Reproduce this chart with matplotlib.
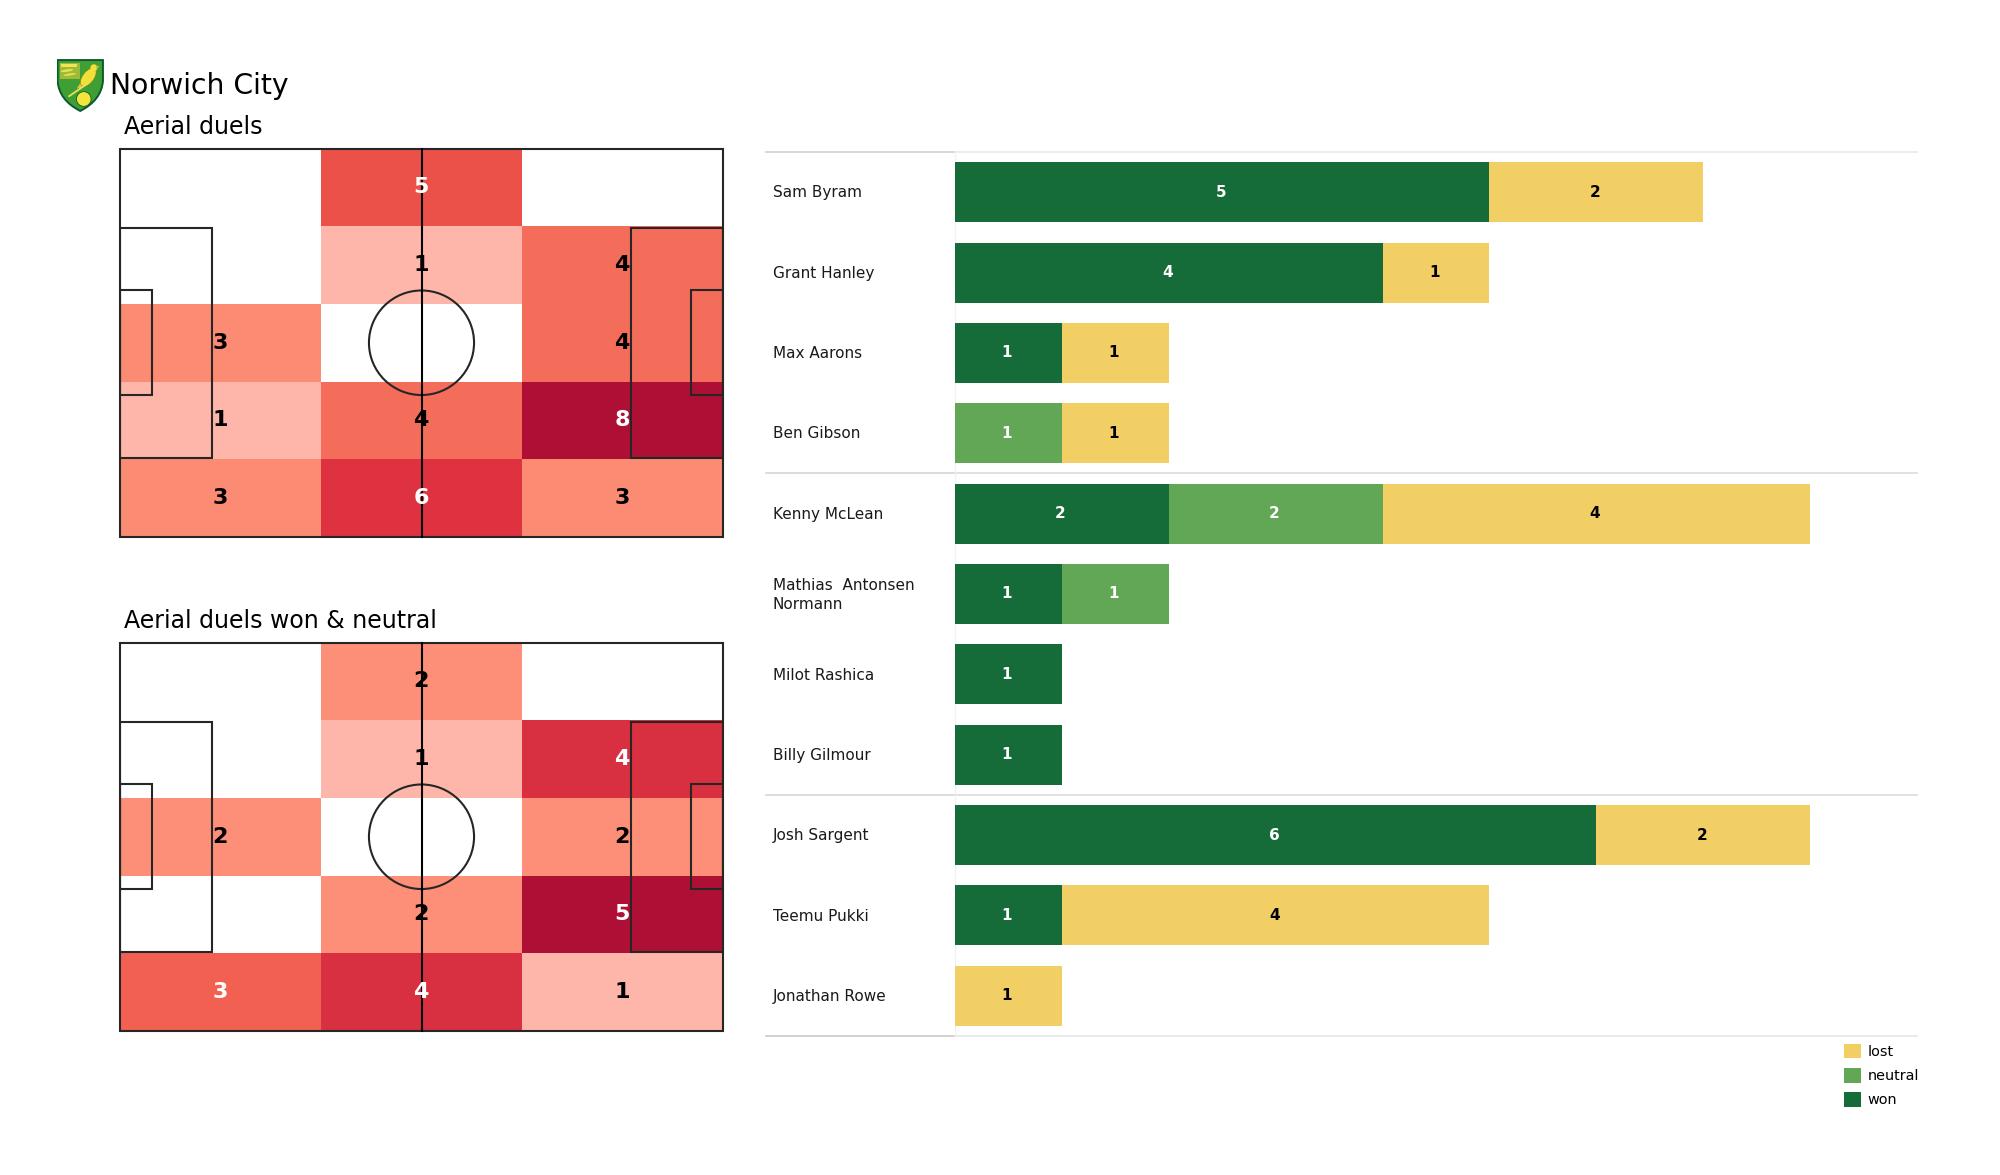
import matplotlib
matplotlib.use('Agg')
import matplotlib.pyplot as plt
import numpy as np
from matplotlib.colors import LinearSegmentedColormap, Normalize
from matplotlib.patches import Circle, Ellipse, PathPatch, Polygon, Rectangle
from matplotlib.path import Path
from matplotlib.transforms import blended_transform_factory

FIG_W, FIG_H = 2000, 1175

# heat map counts, rows top to bottom, columns left to right
aerial_duels = [[0, 5, 0],
                [0, 1, 4],
                [3, 0, 4],
                [1, 4, 8],
                [3, 6, 3]]
aerial_won_neutral = [[0, 2, 0],
                      [0, 1, 4],
                      [2, 0, 2],
                      [0, 2, 5],
                      [3, 4, 1]]

# player table
players = ['Sam Byram', 'Grant Hanley', 'Max Aarons', 'Ben Gibson', 'Kenny McLean',
           'Mathias  Antonsen\nNormann', 'Milot Rashica', 'Billy Gilmour',
           'Josh Sargent', 'Teemu Pukki', 'Jonathan Rowe']
won = [5, 4, 1, 0, 2, 1, 1, 1, 6, 1, 0]
neutral = [0, 0, 0, 1, 2, 1, 0, 0, 0, 0, 0]
lost = [2, 1, 1, 1, 4, 0, 0, 0, 2, 4, 1]

won_color = '#166c38'
neutral_color = '#62a755'
lost_color = '#f1cf65'
line_color = '#262626'

heat_cmap = LinearSegmentedColormap.from_list('heat', [
    (0.0, '#ffffff'), (0.125, '#ffb6aa'), (0.2, '#ffb6aa'), (0.375, '#fc8b74'),
    (0.4, '#fd8f78'), (0.5, '#f46d5b'), (0.6, '#f26052'), (0.625, '#ec5249'),
    (0.75, '#de3241'), (0.8, '#d83040'), (1.0, '#ae1035')])


def px_axes(fig, left, top, right, bottom):
    # axes placed with reference pixel positions
    return fig.add_axes([left / FIG_W, 1 - bottom / FIG_H,
                         (right - left) / FIG_W, (bottom - top) / FIG_H])


def draw_pitch(ax):
    # 105 x 68 pitch outline with boxes and centre circle
    kw = dict(fill=False, edgecolor=line_color, linewidth=1.5, zorder=3)
    ax.add_patch(Rectangle((0, 0), 105, 68, clip_on=False, **kw))
    ax.add_patch(Rectangle((0, 13.84), 16, 40.32, **kw))
    ax.add_patch(Rectangle((89, 13.84), 16, 40.32, **kw))
    ax.add_patch(Rectangle((0, 24.84), 5.6, 18.32, **kw))
    ax.add_patch(Rectangle((99.4, 24.84), 5.6, 18.32, **kw))
    ax.add_patch(Circle((52.5, 34), 9.15, **kw))
    ax.plot([52.5, 52.5], [0, 68], color='black', lw=1.5, zorder=3, clip_on=False)


def draw_heat(ax, counts):
    counts = np.array(counts)
    x_edges = np.linspace(0, 105, counts.shape[1] + 1)
    y_edges = np.linspace(0, 68, counts.shape[0] + 1)
    norm = Normalize(0, counts.max())
    ax.pcolormesh(x_edges, y_edges, counts, cmap=heat_cmap, norm=norm, zorder=1)
    for r in range(counts.shape[0]):
        for c in range(counts.shape[1]):
            if counts[r, c] == 0:
                continue
            color = 'white' if norm(counts[r, c]) >= 0.6 else 'black'
            ax.text((x_edges[c] + x_edges[c + 1]) / 2 - 0.1, (y_edges[r] + y_edges[r + 1]) / 2,
                    str(counts[r, c]), color=color, fontsize=16, fontweight='bold',
                    ha='center', va='center', zorder=4)
    draw_pitch(ax)
    ax.set_xlim(0, 105)
    ax.set_ylim(68, 0)
    ax.axis('off')


def draw_crest(ax):
    # rough drawing of the club crest, units are zoomed pixels
    codes = [Path.MOVETO, Path.LINETO, Path.LINETO, Path.CURVE3, Path.CURVE3,
             Path.CURVE3, Path.CURVE3, Path.CLOSEPOLY]
    verts = [(25, 35), (155, 35), (155, 95), (150, 150), (90, 180),
             (30, 150), (25, 95), (25, 35)]
    ax.add_patch(PathPatch(Path(verts, codes), facecolor='#3f9f35', edgecolor='#0c5a2c', lw=1.4))
    ax.add_patch(Rectangle((32, 42), 56, 46, facecolor='#9dbb38', edgecolor='none'))
    ax.add_patch(Rectangle((35, 46), 46, 8, facecolor='#f0e552', edgecolor='none'))
    ax.add_patch(Ellipse((52, 65), 36, 7, angle=-8, facecolor='#e7df55', edgecolor='none'))
    ax.add_patch(Ellipse((60, 76), 36, 6, angle=-8, facecolor='#e7df55', edgecolor='none'))
    ax.plot([58, 114], [138, 100], color='#e9e25a', lw=1.3, solid_capstyle='round')
    ax.add_patch(Polygon([(96, 92), (80, 116), (96, 114), (116, 100)], facecolor='#d9cb30', edgecolor='none'))
    ax.add_patch(Ellipse((113, 84), 32, 60, angle=38, facecolor='#f4de3a', edgecolor='#7a8a20', lw=0.4))
    ax.add_patch(Circle((129, 57), 10, facecolor='#f4de3a', edgecolor='none'))
    ax.add_patch(Polygon([(136, 50), (146, 54), (136, 60)], facecolor='#c7b92a', edgecolor='none'))
    ax.add_patch(Circle((100, 146), 21, facecolor='#f4e53c', edgecolor='#0c5a2c', lw=0.6))
    ax.set_xlim(22, 158)
    ax.set_ylim(183, 32)
    ax.axis('off')


fig = plt.figure(figsize=(FIG_W / 100, FIG_H / 100), dpi=100, facecolor='white')

crest_ax = px_axes(fig, 56.5, 59, 104, 112)
draw_crest(crest_ax)

fig.text(110 / FIG_W, 1 - 93.5 / FIG_H, 'Norwich City', fontsize=20.3, color='black', va='baseline')
fig.text(124 / FIG_W, 1 - 134 / FIG_H, 'Aerial duels', fontsize=17, color='black', va='baseline')
fig.text(124 / FIG_W, 1 - 628 / FIG_H, 'Aerial duels won & neutral', fontsize=17, color='black', va='baseline')

draw_heat(px_axes(fig, 120, 148.5, 723, 537), aerial_duels)
draw_heat(px_axes(fig, 120, 642.5, 723, 1031), aerial_won_neutral)

# stacked bars
ax = px_axes(fig, 955, 152, 1917, 1036)
y = np.arange(len(players))
won_arr, neutral_arr, lost_arr = np.array(won), np.array(neutral), np.array(lost)
segments = [(won_arr, np.zeros(len(y)), won_color, 'white', 'won'),
            (neutral_arr, won_arr, neutral_color, 'white', 'neutral'),
            (lost_arr, won_arr + neutral_arr, lost_color, 'black', 'lost')]
handles = {}
for values, start, color, text_color, label in segments:
    handles[label] = ax.barh(y, values, left=start, height=0.747, color=color, label=label, zorder=2)
    for row in y:
        if values[row] > 0:
            ax.text(start[row] + values[row] / 2 - 0.014, row, str(values[row]), color=text_color,
                    fontsize=11, fontweight='bold', ha='center', va='center', zorder=3)

ax.set_xlim(0, 9)
ax.set_ylim(len(players) - 0.5, -0.5)
ax.axis('off')

names_trans = blended_transform_factory(fig.transFigure, ax.transData)
for row, name in zip(y, players):
    ax.text(773 / FIG_W, row + 0.008, name, transform=names_trans, fontsize=11, color='#1a1a1a',
            ha='left', va='center', clip_on=False, linespacing=1.32)

# separators, darker under the name column
label_trans = blended_transform_factory(ax.transAxes, ax.transData)
left_edge = (766 - 955) / (1917 - 955)
for pos, left_c, right_c in [(-0.5, '#cfcfcf', '#e9e9e9'), (3.5, '#d6d6d6', '#dcdcdc'),
                             (7.5, '#d6d6d6', '#dcdcdc'), (10.5, '#c9c9c9', '#e6e6ea')]:
    ax.plot([left_edge, 0], [pos, pos], color=left_c, lw=1.2, transform=label_trans,
            clip_on=False, zorder=1)
    ax.plot([0, 1], [pos, pos], color=right_c, lw=1.2, transform=label_trans,
            clip_on=False, zorder=1)
ax.plot([0, 0], [-0.5, 10.5], color='#f1f1f1', lw=1, zorder=1)

legend = fig.legend([handles['lost'], handles['neutral'], handles['won']],
                    ['lost', 'neutral', 'won'], loc='upper left',
                    bbox_to_anchor=(1844 / FIG_W, 1 - 1043.5 / FIG_H), borderaxespad=0,
                    borderpad=0, frameon=False, fontsize=10.4, handlelength=1.2,
                    handleheight=1.2, handletextpad=0.42, labelspacing=0.62)

fig.savefig('out.png', dpi=100, facecolor='white')
